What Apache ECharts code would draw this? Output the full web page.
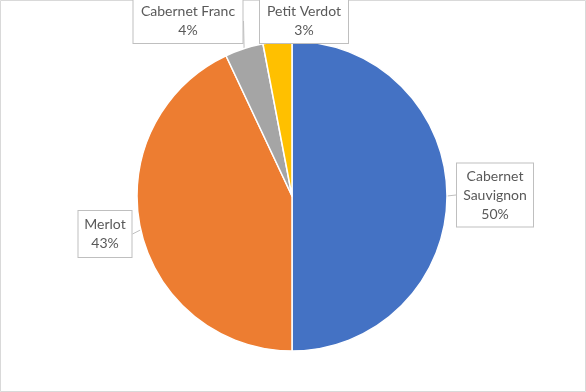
<!DOCTYPE html>
<html><head><meta charset="utf-8">
<script src="https://cdn.jsdelivr.net/npm/echarts@6/dist/echarts.min.js"></script>
<style>html,body{margin:0;padding:0;background:#fff}#c{width:586px;height:392px}</style>
</head><body><div id="c"></div>
<script>
const categories = ['Cabernet Sauvignon', 'Merlot', 'Cabernet Franc', 'Petit Verdot'];
const values = [50, 43, 4, 3];
const colors = ['#4472C4', '#ED7D31', '#A5A5A5', '#FFC000'];

// label box placement (styling only): centre x, centre y, content width, vertical padding
const labelBoxes = [
  { cx: 495, cy: 195, w: 76, pv: 3 },
  { cx: 105, cy: 234, w: 53, pv: 4 },
  { cx: 188, cy: 21, w: 109, pv: 3 },
  { cx: 304, cy: 21, w: 88, pv: 3 }
];

const chart = echarts.init(document.getElementById('c'));
chart.setOption({
  animation: false,
  backgroundColor: '#fff',
  graphic: [{
    type: 'rect', z: -1, silent: true,
    shape: { x: 0.5, y: 0.5, width: 585, height: 391 },
    style: { fill: 'none', stroke: '#D9D9D9', lineWidth: 1 }
  }],
  series: [{
    type: 'pie', center: [292, 196], radius: 155, startAngle: 90, clockwise: true,
    itemStyle: { borderColor: '#fff', borderWidth: 1.5 },
    label: {
      show: true, position: 'outside',
      formatter: p => p.name + '\n' + Math.round(p.percent) + '%',
      fontFamily: 'Lato, "Open Sans", sans-serif', fontSize: 14, color: '#595959',
      lineHeight: 19, align: 'center',
      backgroundColor: '#fff', borderColor: '#BFBFBF', borderWidth: 1
    },
    labelLine: { show: true, length: 6, length2: 0, lineStyle: { color: '#BFBFBF', width: 1 } },
    labelLayout: p => {
      const b = labelBoxes[p.dataIndex];
      return { x: b.cx, y: b.cy, align: 'center', verticalAlign: 'middle' };
    },
    data: categories.map((n, i) => {
      const b = labelBoxes[i];
      const d = { name: n, value: values[i], itemStyle: { color: colors[i] },
        label: { width: b.w, padding: [b.pv, 0], overflow: 'none' } };
      if (i === 0) d.label.formatter = p => p.name.replace(' ', '\n') + '\n' + Math.round(p.percent) + '%';
      return d;
    })
  }]
});
</script></body></html>
